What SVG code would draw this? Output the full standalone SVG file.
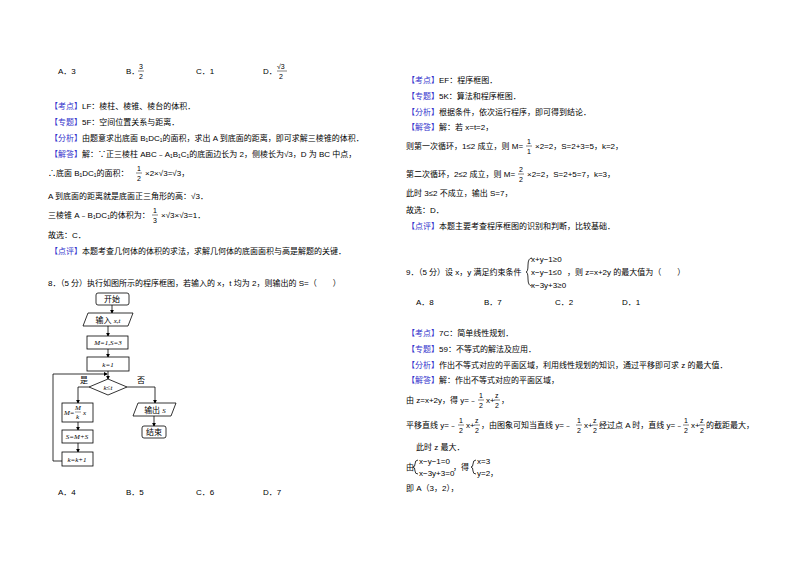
<svg xmlns="http://www.w3.org/2000/svg" width="800" height="565" viewBox="0 0 800 565">
<style>
text{font-family:"Liberation Sans","Noto Sans CJK SC",sans-serif;font-size:8px;fill:#000}
.b{fill:#3333cc}
.s{font-size:7px}
.m{font-family:"Liberation Serif","Noto Sans CJK SC",serif;font-style:italic;font-size:7px}
.box{fill:#fff;stroke:#000;stroke-width:0.8}
.ln{fill:none;stroke:#000;stroke-width:0.8}
.fl{stroke:#000;stroke-width:0.5}
</style>
<defs><marker id="ar" markerWidth="5" markerHeight="5" refX="4" refY="2.5" orient="auto"><path d="M0,0L5,2.5L0,5z" fill="#000"/></marker></defs>
<rect width="800" height="565" fill="#fff"/>
<g id="left">
<text x="58" y="74">A．3</text><text x="126" y="74">B．</text><text x="139" y="69" class="s">3</text><line class="fl" x1="138" y1="71" x2="144" y2="71"/><text x="139" y="79" class="s">2</text>
<text x="196" y="74">C．1</text><text x="263" y="74">D．</text><text x="277" y="69" class="s">√3</text><line class="fl" x1="277" y1="71" x2="287" y2="71"/><text x="279" y="79" class="s">2</text>
<text x="50" y="109"><tspan class="b">【考点】</tspan>LF：棱柱、棱锥、棱台的体积．</text>
<text x="50" y="125"><tspan class="b">【专题】</tspan>5F：空间位置关系与距离．</text>
<text x="50" y="141"><tspan class="b">【分析】</tspan>由题意求出底面 B₁DC₁的面积，求出 A 到底面的距离，即可求解三棱锥的体积．</text>
<text x="50" y="157"><tspan class="b">【解答】</tspan>解：∵正三棱柱 ABC﹣A₁B₁C₁的底面边长为 2，侧棱长为√3，D 为 BC 中点，</text>
<text x="48" y="176">∴底面 B₁DC₁的面积：</text>
<text x="137" y="171" class="s">1</text><line class="fl" x1="136" y1="173" x2="142" y2="173"/><text x="137" y="181" class="s">2</text>
<text x="145" y="176">×2×√3=√3，</text>
<text x="48" y="199">A 到底面的距离就是底面正三角形的高：√3．</text>
<text x="48" y="218">三棱锥 A﹣B₁DC₁的体积为：</text>
<text x="153" y="213" class="s">1</text><line class="fl" x1="152" y1="215" x2="158" y2="215"/><text x="153" y="223" class="s">3</text>
<text x="161" y="218">×√3×√3=1．</text>
<text x="48" y="238">故选：C．</text>
<text x="50" y="254"><tspan class="b">【点评】</tspan>本题考查几何体的体积的求法，求解几何体的底面面积与高是解题的关键．</text>
<text x="48" y="286">8．（5 分）执行如图所示的程序框图，若输入的 x，t 均为 2，则输出的 S=（　　）</text>
<text x="58" y="495">A．4</text><text x="126" y="495">B．5</text><text x="196" y="495">C．6</text><text x="263" y="495">D．7</text>
</g>
<g id="connectors">
<path class="ln" d="M112,305V313" marker-end="url(#ar)"/>
<path class="ln" d="M108,326V336" marker-end="url(#ar)"/>
<path class="ln" d="M108,349V357" marker-end="url(#ar)"/>
<path class="ln" d="M108,371V379" marker-end="url(#ar)"/>
<path class="ln" d="M89,387H78V403" marker-end="url(#ar)"/>
<path class="ln" d="M78,422V430" marker-end="url(#ar)"/>
<path class="ln" d="M78,443V452" marker-end="url(#ar)"/>
<path class="ln" d="M62,461H53V374H107" marker-end="url(#ar)"/>
<path class="ln" d="M127,387H155V403" marker-end="url(#ar)"/>
<path class="ln" d="M154,416V426" marker-end="url(#ar)"/>
</g>
<g id="n_start"><rect class="box" x="96" y="293" width="33" height="12" rx="2"/><text x="112" y="302" text-anchor="middle">开始</text></g>
<g id="n_input"><path class="box" d="M88,313H133L128,326H83Z"/><text x="108" y="323" text-anchor="middle" font-size="7">输入 <tspan class="m">x,t</tspan></text></g>
<g id="n_init"><rect class="box" x="87" y="336" width="41" height="13"/><text x="108" y="345" text-anchor="middle" class="m">M=1,S=3</text></g>
<g id="n_k"><rect class="box" x="87" y="357" width="42" height="14"/><text x="108" y="367" text-anchor="middle" class="m">k=1</text></g>
<g id="n_cond"><path class="box" d="M108,379L127,387L108,395L89,387Z"/><text x="108" y="390" text-anchor="middle" class="m">k≤t</text><text x="80" y="383">是</text><text x="137" y="383">否</text></g>
<g id="n_M"><rect class="box" x="62" y="403" width="31" height="19"/><text x="64" y="415" class="m">M=</text><text x="75" y="410" class="m" font-size="6">M</text><line x1="75" y1="412" x2="81" y2="412" stroke="#000" stroke-width="0.4"/><text x="76" y="419" class="m" font-size="6">k</text><text x="83" y="415" class="m">x</text></g>
<g id="n_S"><rect class="box" x="62" y="430" width="31" height="13"/><text x="77" y="439" text-anchor="middle" class="m">S=M+S</text></g>
<g id="n_inc"><rect class="box" x="62" y="452" width="31" height="14"/><text x="77" y="462" text-anchor="middle" class="m">k=k+1</text></g>
<g id="n_out"><path class="box" d="M138,403H176L171,416H133Z"/><text x="155" y="413" text-anchor="middle" font-size="7">输出 <tspan class="m">S</tspan></text></g>
<g id="n_end"><rect class="box" x="142" y="426" width="24" height="12" rx="2"/><text x="154" y="435" text-anchor="middle">结束</text></g>
<g id="right">
<text x="407" y="83"><tspan class="b">【考点】</tspan>EF：程序框图．</text>
<text x="407" y="99"><tspan class="b">【专题】</tspan>5K：算法和程序框图．</text>
<text x="407" y="115"><tspan class="b">【分析】</tspan>根据条件，依次运行程序，即可得到结论．</text>
<text x="407" y="130"><tspan class="b">【解答】</tspan>解：若 x=t=2，</text>
<text x="406" y="149">则第一次循环，1≤2 成立，则 M=</text>
<text x="527" y="144" class="s">1</text><line class="fl" x1="526" y1="146" x2="532" y2="146"/><text x="527" y="154" class="s">1</text>
<text x="535" y="149">×2=2，S=2+3=5，k=2，</text>
<text x="406" y="177">第二次循环，2≤2 成立，则 M=</text>
<text x="519" y="172" class="s">2</text><line class="fl" x1="518" y1="174" x2="524" y2="174"/><text x="519" y="182" class="s">2</text>
<text x="527" y="177">×2=2，S=2+5=7，k=3，</text>
<text x="406" y="196">此时 3≤2 不成立，输出 S=7，</text>
<text x="406" y="213">故选：D．</text>
<text x="407" y="229"><tspan class="b">【点评】</tspan>本题主要考查程序框图的识别和判断，比较基础．</text>
<text x="406" y="275">9．（5 分）设 x，y 满足约束条件</text>
<path class="ln" d="M532,258Q528,258 528,265Q528,272 526,272Q528,272 528,279Q528,286 532,286"/>
<text x="531" y="262" font-size="7">x+y−1≥0</text>
<text x="531" y="275" font-size="7">x−y−1≤0</text>
<text x="531" y="288" font-size="7">x−3y+3≥0</text>
<text x="567" y="275">，则 z=x+2y 的最大值为（　　）</text>
<text x="416" y="305">A．8</text><text x="484" y="305">B．7</text><text x="555" y="305">C．2</text><text x="622" y="305">D．1</text>
<text x="407" y="336"><tspan class="b">【考点】</tspan>7C：简单线性规划．</text>
<text x="407" y="352"><tspan class="b">【专题】</tspan>59：不等式的解法及应用．</text>
<text x="407" y="368"><tspan class="b">【分析】</tspan>作出不等式对应的平面区域，利用线性规划的知识，通过平移即可求 z 的最大值．</text>
<text x="407" y="383"><tspan class="b">【解答】</tspan>解：作出不等式对应的平面区域，</text>
<text x="406" y="403">由 z=x+2y，得 y=﹣</text>
<text x="479" y="398" class="s">1</text><line class="fl" x1="478" y1="400" x2="484" y2="400"/><text x="479" y="408" class="s">2</text>
<text x="486" y="403">x+</text>
<text x="495" y="398" class="s">z</text><line class="fl" x1="494" y1="400" x2="500" y2="400"/><text x="495" y="408" class="s">2</text>
<text x="501" y="403">，</text>
<text x="406" y="428">平移直线 y=﹣</text>
<text x="459" y="423" class="s">1</text><line class="fl" x1="458" y1="425" x2="464" y2="425"/><text x="459" y="433" class="s">2</text>
<text x="466" y="428">x+</text>
<text x="475" y="423" class="s">z</text><line class="fl" x1="474" y1="425" x2="480" y2="425"/><text x="475" y="433" class="s">2</text>
<text x="481" y="428">，由图象可知当直线 y=﹣</text>
<text x="577" y="423" class="s">1</text><line class="fl" x1="576" y1="425" x2="582" y2="425"/><text x="577" y="433" class="s">2</text>
<text x="584" y="428">x+</text>
<text x="593" y="423" class="s">z</text><line class="fl" x1="592" y1="425" x2="598" y2="425"/><text x="593" y="433" class="s">2</text>
<text x="599" y="428">经过点 A 时，直线 y=﹣</text>
<text x="684" y="423" class="s">1</text><line class="fl" x1="683" y1="425" x2="689" y2="425"/><text x="684" y="433" class="s">2</text>
<text x="691" y="428">x+</text>
<text x="700" y="423" class="s">z</text><line class="fl" x1="699" y1="425" x2="705" y2="425"/><text x="700" y="433" class="s">2</text>
<text x="706" y="428">的截距最大，</text>
<text x="416" y="450">此时 z 最大．</text>
<text x="406" y="470">由</text>
<path class="ln" d="M418,460Q415,460 415,464Q415,467 413,467Q415,467 415,471Q415,474 418,474"/>
<text x="419" y="464" font-size="7">x−y−1=0</text><text x="419" y="476" font-size="7">x−3y+3=0</text>
<text x="453" y="470">，得</text>
<path class="ln" d="M476,460Q473,460 473,464Q473,467 471,467Q473,467 473,471Q473,474 476,474"/>
<text x="477" y="464" font-size="7">x=3</text><text x="477" y="476" font-size="7">y=2</text><text x="490" y="476">，</text>
<text x="406" y="491">即 A（3，2），</text>
</g>
</svg>
